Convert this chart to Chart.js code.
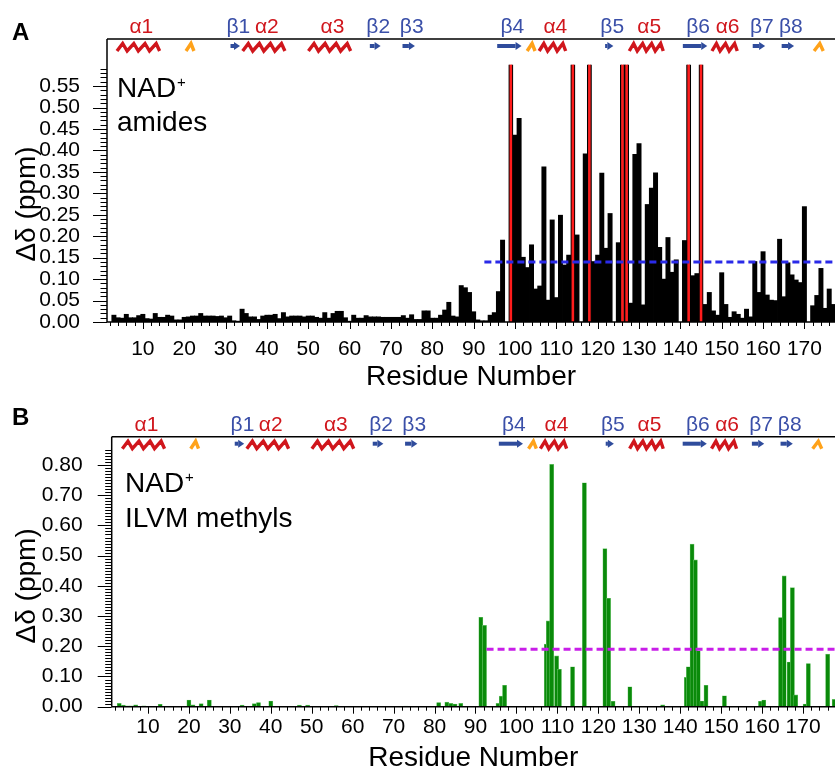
<!DOCTYPE html>
<html><head><meta charset="utf-8">
<script src="https://cdn.jsdelivr.net/npm/chart.js@4.4.1/dist/chart.umd.min.js"></script>
<style>
html,body{margin:0;padding:0;background:#fff;}
#wrap{position:relative;width:835px;height:771px;overflow:hidden;}
canvas{position:absolute;left:0;}
#cA{top:0;} #cB{top:400px;}
</style></head><body>
<div id="wrap">
<canvas id="cA" width="835" height="400"></canvas>
<canvas id="cB" width="835" height="371"></canvas>
</div>
<script>
// ---------------- DATA ----------------
const amideResidues = Array.from({length: 175}, (_, i) => i + 3); // residues 3..177
const amideShifts = [
 0.016,0.010,0.009,0.018,0.010,0.010,0.015,0.018,0.008,0.007,
 0.020,0.011,0.011,0.016,0.014,0.005,0.005,0.011,0.012,0.014,
 0.014,0.020,0.014,0.014,0.014,0.013,0.014,0.010,0.014,0.003,
 0.002,0.030,0.020,0.012,0.012,0.006,0.014,0.016,0.016,0.018,
 0.008,0.022,0.012,0.014,0.014,0.014,0.012,0.014,0.014,0.011,
 0.009,0.022,0.009,0.020,0.025,0.025,0.010,0.002,0.016,0.009,
 0.009,0.015,0.012,0.012,0.012,0.011,0.011,0.011,0.011,0.011,
 0.015,0.009,0.017,0.006,0.006,0.026,0.026,0.009,0.009,0.016,
 0.028,0.046,0.014,0.012,0.085,0.080,0.069,0.024,0.005,0.003,
 0.003,0.016,0.022,0.071,0.191,null,null,0.436,0.475,0.151,
 0.127,0.180,0.077,0.084,0.362,0.051,0.238,0.057,0.249,0.133,
 0.156,null,0.203,null,0.392,null,0.141,0.156,0.347,0.172,
 0.253,null,0.185,null,null,0.044,0.391,0.416,0.040,0.274,
 0.312,0.348,0.174,0.100,0.197,0.116,0.145,null,0.190,null,
 0.108,0.113,null,0.041,0.069,0.026,0.016,0.115,0.041,0.011,
 0.024,0.018,0.009,0.030,0.012,0.141,0.069,0.164,0.063,0.051,
 0.050,0.193,0.059,0.138,0.110,0.098,0.092,0.269,null,0.038,
 0.062,0.125,0.032,0.077,0.041
];
const broadenedResidues = [99, 114, 118, 126, 127, 142, 145];
const broadenedShift = 0.6;
const amideCutoff = 0.14;
const amideCutoffFrom = 92.6;

const methylPositions = [3,4,5,6,7,9,13,20,21,23,25,33,36,37,40,47,49,56,73,81,
 83,84,85,86.4,91.3,92.2,95.5,96.3,97.1,107.3,107.8,108.6,109.8,110.5,113.7,116.6,121.6,122.5,123.6,127.7,
 135.7,141.5,142.0,142.9,143.7,144.4,145.3,146.3,150.8,159.6,160.4,164.5,165.4,166.6,167.4,168.2,170.5,171.3,176.0,177.6];
const methylShifts = [0.011,0.005,0.003,0.003,0.006,0.003,0.008,0.022,0.006,0.010,0.022,0.005,0.010,0.014,0.019,0.005,0.005,0.004,0.002,0.014,
 0.015,0.011,0.009,0.011,0.296,0.269,0.011,0.035,0.071,0.207,0.284,0.802,0.168,0.124,0.132,0.741,0.523,0.359,0.018,0.066,
 0.006,0.097,0.132,0.538,0.486,0.185,0.019,0.071,0.036,0.018,0.022,0.295,0.433,0.148,0.394,0.039,0.009,0.143,0.174,0.024];
const methylCutoff = 0.19;
const methylCutoffFrom = 92.7;

const residueTicks = [10,20,30,40,50,60,70,80,90,100,110,120,130,140,150,160,170];
const amideTicks = [0,0.05,0.10,0.15,0.20,0.25,0.30,0.35,0.40,0.45,0.50,0.55];
const methylTicks = [0,0.10,0.20,0.30,0.40,0.50,0.60,0.70,0.80];

// secondary structure (residue ranges)
const ssNames = ['α1','3₁₀','β1','α2','α3','β2','β3','β4','3₁₀','α4','β5','α5','β6','α6','β7','β8','3₁₀'];
const ssType  = ['H','G','E','H','H','E','E','E','G','H','E','H','E','H','E','E','G'];
const ssStart = [3.5,20.2,31.2,33.9,49.8,64.9,72.8,95.7,102.7,105.6,121.8,127.4,140.6,147.4,157.5,164.5,172.1];
const ssEnd   = [14.3,22.6,33.5,44.6,60.5,67.5,75.8,101.6,105.1,112.5,123.8,136.1,146.5,154.0,160.5,167.5,174.8];
const ssTurns = [4,1,0,4,4,0,0,0,1,3,0,4,0,3,0,0,1];

// ---------------- DRAWING ----------------
const FONT = '"Liberation Sans", Arial, Helvetica, sans-serif';

function drawSS(ctx, x, top) {
  const y0 = top + 3, y1 = top + 12, yc = top + 7;
  for (let i = 0; i < ssNames.length; i++) {
    const a = x.getPixelForValue(ssStart[i]);
    const b = x.getPixelForValue(ssEnd[i]);
    const t = ssType[i];
    if (t === 'H' || t === 'G') {
      const n = ssTurns[i];
      const w = (b - a) / n;
      ctx.strokeStyle = t === 'H' ? '#d0161c' : '#ffa21a';
      ctx.lineWidth = 3.4;
      ctx.lineJoin = 'miter';
      ctx.lineCap = 'butt';
      ctx.beginPath();
      ctx.moveTo(a + 1, y1);
      for (let k = 0; k < n; k++) {
        ctx.lineTo(a + (k + 0.6) * w, y0 + 1.5);
        ctx.lineTo(a + (k + 1) * w - (k === n - 1 ? 1 : 0), y1);
      }
      ctx.stroke();
    } else {
      ctx.fillStyle = '#2f4c9c';
      const head = Math.min(6, b - a);
      if (b - a - head > 0) ctx.fillRect(a, yc - 2, b - a - head, 4);
      ctx.beginPath();
      ctx.moveTo(b - head, yc - 4);
      ctx.lineTo(b, yc);
      ctx.lineTo(b - head, yc + 4);
      ctx.closePath();
      ctx.fill();
    }
  }
  ctx.font = '21px ' + FONT;
  ctx.textAlign = 'center';
  ctx.textBaseline = 'alphabetic';
  for (let i = 0; i < ssNames.length; i++) {
    if (ssType[i] === 'G') continue;
    const c = (x.getPixelForValue(ssStart[i]) + x.getPixelForValue(ssEnd[i])) / 2 + 3;
    ctx.fillStyle = ssType[i] === 'H' ? '#d0161c' : '#3a4fa8';
    ctx.fillText(ssNames[i], c, top - 6);
  }
}

function makeDecor(cfg) {
  return {
    id: 'decor' + cfg.letter,
    afterDraw(chart) {
      const {ctx, chartArea: ca, scales: {x, y}} = chart;
      ctx.save();
      ctx.strokeStyle = '#000';
      ctx.lineWidth = 1.5;
      ctx.beginPath();
      ctx.moveTo(ca.left, ca.top); ctx.lineTo(ca.right, ca.top);
      ctx.moveTo(ca.left, ca.top); ctx.lineTo(ca.left, ca.bottom);
      ctx.moveTo(ca.left, ca.bottom); ctx.lineTo(ca.right, ca.bottom);
      ctx.stroke();
      ctx.lineWidth = 1;
      ctx.beginPath();
      for (let k = 0; k <= cfg.yMinorCount; k++) {
        const py = Math.round(y.getPixelForValue(k * 0.01)) + 0.5;
        const len = (k % cfg.yMajorEvery === 0) ? 14 : 6.5;
        ctx.moveTo(ca.left, py); ctx.lineTo(ca.left - len, py);
      }
      for (let r = 2; r <= 176; r += 2) {
        const px = Math.round(x.getPixelForValue(r)) + 0.5;
        if (px < ca.left) continue;
        const len = (r % 10 === 0) ? 7 : 4;
        ctx.moveTo(px, ca.bottom); ctx.lineTo(px, ca.bottom + len);
      }
      ctx.stroke();
      drawSS(ctx, x, ca.top);
      ctx.fillStyle = '#000';
      ctx.textAlign = 'left';
      ctx.font = 'bold 24px ' + FONT;
      ctx.fillText(cfg.letter, 12, cfg.letterY);
      ctx.font = '28px ' + FONT;
      ctx.fillText('NAD', cfg.textX, cfg.textY1);
      const w = ctx.measureText('NAD').width;
      ctx.font = '15px ' + FONT;
      ctx.fillText('+', cfg.textX + w + 1, cfg.textY1 - 10);
      ctx.font = '28px ' + FONT;
      ctx.fillText(cfg.line2, cfg.textX, cfg.textY2);
      ctx.textAlign = 'center';
      ctx.fillText('Residue Number', (ca.left + ca.right) / 2, cfg.xTitleY);
      ctx.save();
      ctx.translate(cfg.yTitleX, (y.getPixelForValue(0) + y.getPixelForValue(cfg.yTitleTop)) / 2);
      ctx.rotate(-Math.PI / 2);
      ctx.textBaseline = 'middle';
      ctx.fillText('Δδ (ppm)', 0, 0);
      ctx.restore();
      ctx.restore();
    }
  };
}

function axes(cfg) {
  return {
    x: {
      type: 'linear', min: cfg.xmin, max: cfg.xmax, offset: false,
      grid: {display: false}, border: {display: false},
      afterBuildTicks: s => { s.ticks = residueTicks.map(v => ({value: v})); },
      ticks: {font: {family: FONT, size: 21}, color: '#000', padding: cfg.xPad, maxRotation: 0, autoSkip: false,
              callback: v => String(v)},
      afterFit: s => { s.height = cfg.xH; }
    },
    y: {
      type: 'linear', min: 0, max: cfg.ymax,
      grid: {display: false}, border: {display: false},
      afterBuildTicks: s => { s.ticks = cfg.yTicks.map(v => ({value: v})); },
      ticks: {font: {family: FONT, size: 21}, color: '#000', padding: cfg.yPad, autoSkip: false,
              callback: v => v.toFixed(2)},
      afterFit: s => { s.width = cfg.yW; }
    }
  };
}

Chart.defaults.animation = false;

new Chart(document.getElementById('cA'), {
  type: 'bar',
  data: {
    datasets: [
      {type: 'line', data: [{x: amideCutoffFrom, y: amideCutoff}, {x: 178, y: amideCutoff}],
       borderColor: '#2a2ae8', borderWidth: 3, borderDash: [7, 4], pointRadius: 0, order: 0},
      {data: broadenedResidues.map(r => ({x: r, y: broadenedShift})), grouped: false,
       backgroundColor: '#ff1c1c', borderColor: '#000', borderWidth: {left: 1.2, right: 1.2, top: 0, bottom: 0},
       borderSkipped: false, barThickness: 4.3, order: 1},
      {data: amideResidues.map((r, i) => ({x: r, y: amideShifts[i]})), grouped: false,
       backgroundColor: '#000', borderWidth: 0, barThickness: 4.3, order: 2}
    ]
  },
  options: {
    responsive: false, devicePixelRatio: 1, animation: false,
    layout: {padding: {top: 39, left: 0, right: 0, bottom: 0}, autoPadding: false},
    plugins: {legend: {display: false}, tooltip: {enabled: false}},
    scales: axes({xmin: 1.33, xmax: 177.4, ymax: 0.6597, yTicks: amideTicks, xPad: 7, yPad: 19, xH: 78, yW: 107})
  },
  plugins: [makeDecor({letter: 'A', letterY: 40, textX: 117, textY1: 97, textY2: 131, line2: 'amides',
                       xTitleY: 385, yTitleX: 27, yTitleTop: 0.55, yMinorCount: 59, yMajorEvery: 5})]
});

new Chart(document.getElementById('cB'), {
  type: 'bar',
  data: {
    datasets: [
      {type: 'line', data: [{x: methylCutoffFrom, y: methylCutoff}, {x: 178, y: methylCutoff}],
       borderColor: '#c81ee8', borderWidth: 3, borderDash: [7, 4], pointRadius: 0, order: 0},
      {data: methylPositions.map((r, i) => ({x: r, y: methylShifts[i]})), grouped: false,
       backgroundColor: '#0a8a0a', borderColor: '#6cc46c', borderWidth: 0.6,
       barThickness: 4.1, order: 1}
    ]
  },
  options: {
    responsive: false, devicePixelRatio: 1, animation: false,
    layout: {padding: {top: 36.7, left: 0, right: 0, bottom: 0}, autoPadding: false},
    plugins: {legend: {display: false}, tooltip: {enabled: false}},
    scales: axes({xmin: 1.15, xmax: 177.8, ymax: 0.8937, yTicks: methylTicks, xPad: 0, yPad: 21, xH: 64.3, yW: 111.7})
  },
  plugins: [makeDecor({letter: 'B', letterY: 25, textX: 125, textY1: 92, textY2: 127, line2: 'ILVM methyls',
                       xTitleY: 366, yTitleX: 27, yTitleTop: 0.80, yMinorCount: 85, yMajorEvery: 10})]
});
</script>
</body></html>
